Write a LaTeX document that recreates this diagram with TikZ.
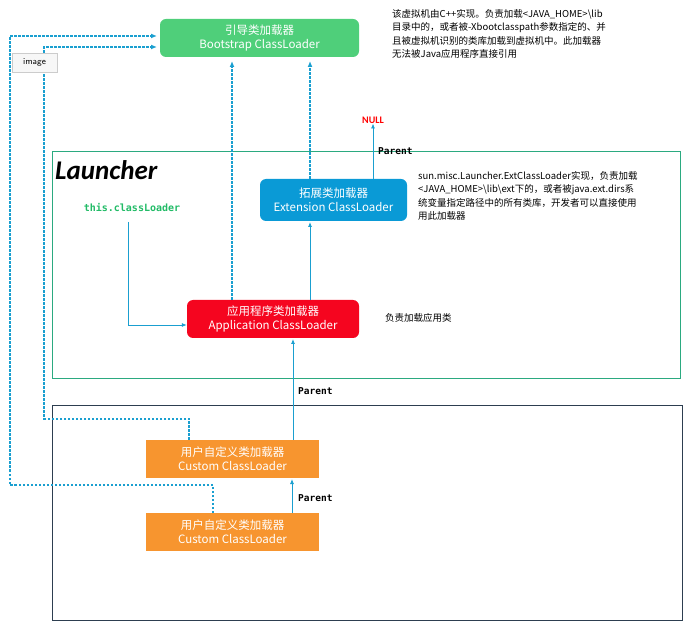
\documentclass[tikz,border=0pt]{standalone}
\usepackage{fontspec}
\setmainfont{Carlito}
\newfontfamily\cjk{Noto Sans CJK SC}
\newfontfamily\mono{DejaVu Sans Mono}
\usetikzlibrary{arrows.meta}
\definecolor{ln}{HTML}{1A9FD0}
\definecolor{bgreen}{HTML}{4FCF7A}
\definecolor{bblue}{HTML}{0A9AD6}
\definecolor{bred}{HTML}{F5051F}
\definecolor{borange}{HTML}{F7952F}
\definecolor{teal}{HTML}{2BAA80}
\definecolor{dk}{HTML}{2D3E50}
\begin{document}
\begin{tikzpicture}[x=1pt,y=-1pt,
 box/.style={draw=none,text=white,align=center,font=\cjk\fontsize{11.5}{14}\selectfont,minimum width=#1,minimum height=38pt,inner sep=1pt},
 sol/.style={ln,line width=0.8pt,-{Latex[length=5pt,width=4pt]}},
 dsh/.style={ln,line width=1.4pt,dash pattern=on 2.5pt off 1.5pt,-{Latex[length=6pt,width=5pt]}},
 note/.style={font=\cjk\fontsize{9.5}{13.5}\selectfont,align=left,anchor=north west,inner sep=0},
 par/.style={font=\mono\bfseries\fontsize{9.5}{10}\selectfont,inner sep=0,anchor=west}]
\useasboundingbox (0,0) rectangle (694,636);
\draw[teal,line width=0.8pt] (52,151) rectangle (680,378);
\draw[dk,line width=0.8pt] (52,405) rectangle (682,620);
\node[box=199pt,fill=bgreen,rounded corners=6pt] (boot) at (259.5,38) {引导类加载器\\Bootstrap ClassLoader};
\node[box=147pt,minimum height=42pt,fill=bblue,rounded corners=6pt] (ext) at (333.5,200) {拓展类加载器\\Extension ClassLoader};
\node[box=172pt,fill=bred,rounded corners=6pt] (app) at (273,319) {应用程序类加载器\\Application ClassLoader};
\node[box=173pt,fill=borange] (c1) at (232.5,459) {用户自定义类加载器\\Custom ClassLoader};
\node[box=173pt,fill=borange] (c2) at (232.5,532) {用户自定义类加载器\\Custom ClassLoader};
\node[note] (n1) at (392,9) {该虚拟机由C++实现。负责加载<JAVA\_HOME>\textbackslash lib\\目录中的，或者被-Xbootclasspath参数指定的、并\\且被虚拟机识别的类库加载到虚拟机中。此加载器\\无法被Java应用程序直接引用};
\node[note] (n2) at (418,171) {sun.misc.Launcher.ExtClassLoader实现，负责加载\\<JAVA\_HOME>\textbackslash lib\textbackslash ext下的，或者被java.ext.dirs系\\统变量指定路径中的所有类库，开发者可以直接使用\\用此加载器};
\node[note,anchor=west] (n3) at (385,318) {负责加载应用类};
\node[font=\bfseries\itshape\fontsize{27}{28}\selectfont,anchor=west,inner sep=0] (lau) at (55,170) {Launcher};
\node[font=\mono\bfseries\fontsize{10}{10}\selectfont,text=teal!80!green,inner sep=0] (tcl) at (132,208) {this.classLoader};
\node[font=\bfseries\fontsize{10}{10}\selectfont,text=red,inner sep=0] (null) at (373,120) {NULL};
\node[par] (p1) at (378,151) {Parent};
\node[par] (p2) at (298,391) {Parent};
\node[par] (p3) at (298,498) {Parent};
\coordinate (a1) at (189,419); \coordinate (a2) at (44,419); \coordinate (a3) at (44,47);
\coordinate (b1) at (213,485); \coordinate (b2) at (10,485); \coordinate (b3) at (10,36);
% dashed
\draw[dsh] (232,300) -- (232,61);
\draw[dsh] (310,179) -- (310,61);
\draw[dsh] (189,440) -- (a1) -- (a2) -- (a3) -- (157,47);
\draw[dsh] (213,513) -- (b1) -- (b2) -- (b3) -- (157,36);
% solid
\draw[sol] (373,179) -- (null.south);
\draw[sol] (310,300) -- (310,222);
\draw[sol] (128,222) -- (128,325) -- (app.west|-0,325);
\draw[sol] (293,440) -- (293,339);
\draw[sol] (292,513) -- (292,479);
\node[draw=black!20,fill=black!3,font=\fontsize{9}{10}\selectfont\sffamily,minimum width=45pt,minimum height=19pt,inner sep=0] (img) at (34.5,62.5) {image};
\end{tikzpicture}
\end{document}
